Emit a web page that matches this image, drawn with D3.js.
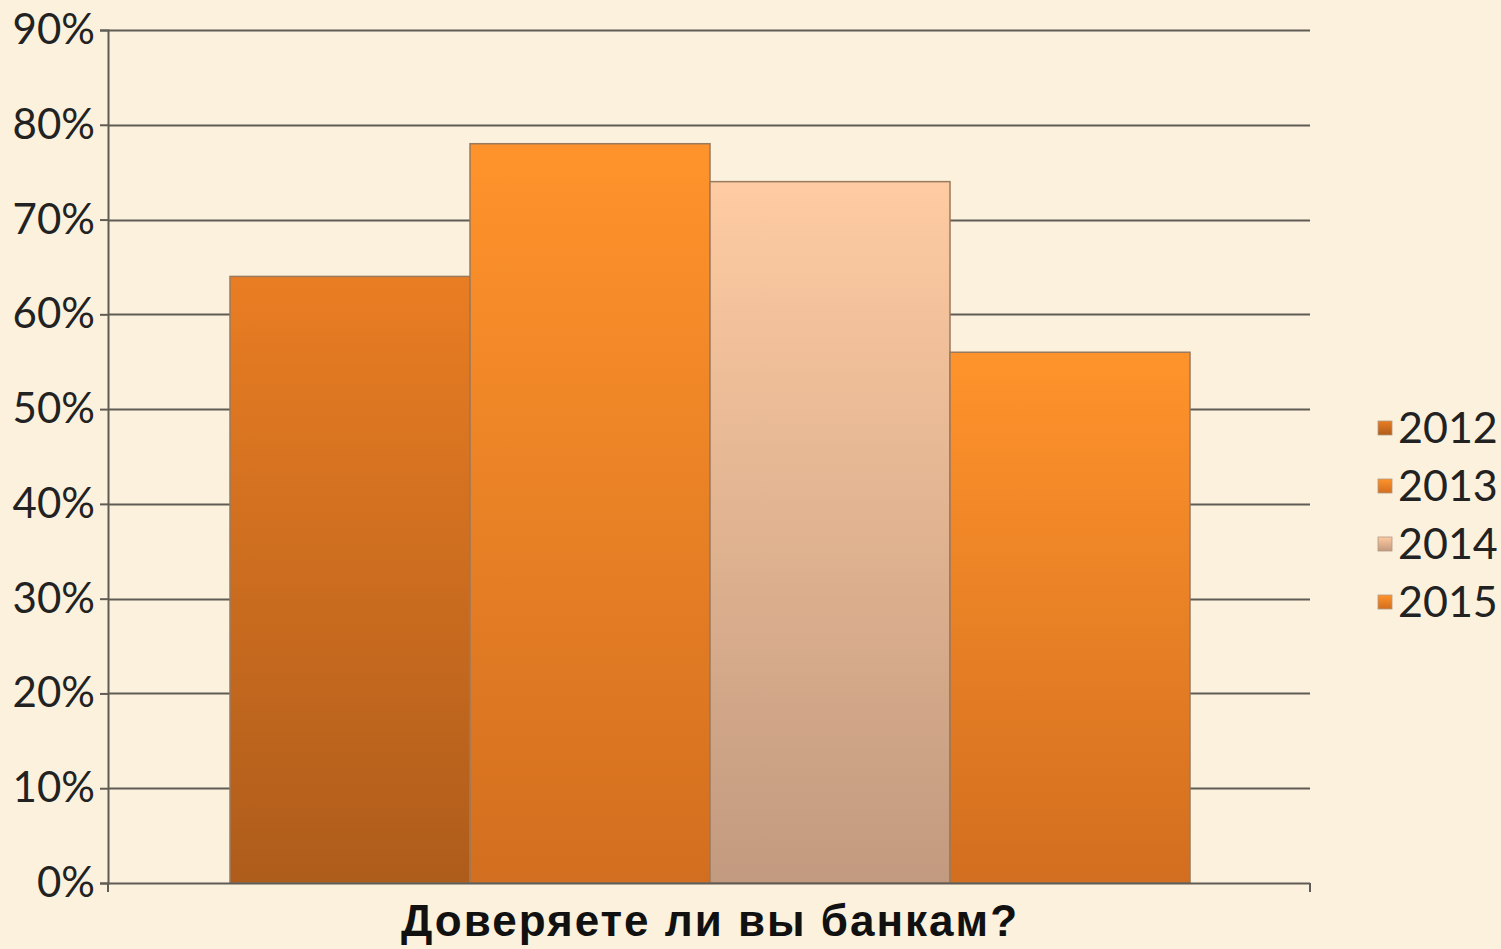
<!DOCTYPE html>
<html>
<head>
<meta charset="utf-8">
<script src="https://cdn.jsdelivr.net/npm/d3@7"></script>
<style>
  body { margin: 0; background: #fbf1dc; }
  svg { display: block; }
</style>
</head>
<body>
<div id="chart"></div>
<script>
(function() {

  var years = ["2012", "2013", "2014", "2015"],
      values = [0.64, 0.78, 0.74, 0.56],
      yTicks = [0, 0.1, 0.2, 0.3, 0.4, 0.5, 0.6, 0.7, 0.8, 0.9],
      category = "Доверяете ли вы банкам?";

  var topColors = ["#e97d23", "#ff932b", "#fecba2", "#ff932b"],
      bottomColors = ["#ae5c1b", "#d26e1f", "#c29a7f", "#d26e1f"];

  var width = 1501, height = 949,
      left = 108, right = 1310, top = 30, bottom = 883;

  var svg = d3.select("#chart").append("svg")
      .attr("width", width)
      .attr("height", height);

  svg.append("rect")
      .attr("width", width)
      .attr("height", height)
      .attr("fill", "#fbf1dc");

  var defs = svg.append("defs");
  years.forEach(function(y, i) {
    var g = defs.append("linearGradient")
        .attr("id", "grad" + i)
        .attr("x1", 0).attr("y1", 0).attr("x2", 0).attr("y2", 1);
    g.append("stop").attr("offset", "0%").attr("stop-color", topColors[i]);
    g.append("stop").attr("offset", "100%").attr("stop-color", bottomColors[i]);
  });

  var y = d3.scaleLinear()
      .domain([0, 0.9])
      .range([bottom, top]);

  var x = d3.scaleBand()
      .domain(years)
      .range([230, 1190])
      .padding(0);

  // gridlines
  svg.append("g")
    .selectAll("line")
      .data(yTicks.slice(1))
    .enter().append("line")
      .attr("x1", left)
      .attr("x2", right)
      .attr("y1", function(d) { return Math.round(y(d)) + 0.5; })
      .attr("y2", function(d) { return Math.round(y(d)) + 0.5; })
      .attr("stroke", "#5f5b55")
      .attr("stroke-width", 2);

  // y axis
  var yAxis = svg.append("g")
      .attr("transform", "translate(" + left + ",0)")
      .call(d3.axisLeft(y)
        .tickValues(yTicks)
        .tickSize(8)
        .tickPadding(5)
        .tickFormat(d3.format(".0%")));
  yAxis.select(".domain").attr("stroke", "#5f5b55").attr("stroke-width", 2);
  yAxis.selectAll(".tick line").attr("stroke", "#5f5b55").attr("stroke-width", 2);
  yAxis.selectAll(".tick text")
      .attr("fill", "#222")
      .style("font-family", "Lato, 'Open Sans', sans-serif")
      .style("font-size", "42px");

  // bars
  svg.append("g")
    .selectAll("rect")
      .data(values)
    .enter().append("rect")
      .attr("x", function(d, i) { return x(years[i]); })
      .attr("y", function(d) { return y(d); })
      .attr("width", x.bandwidth())
      .attr("height", function(d) { return bottom - y(d); })
      .attr("fill", function(d, i) { return "url(#grad" + i + ")"; })
      .attr("stroke", "#9a7a5e")
      .attr("stroke-width", 1.5);

  // x axis
  svg.append("line")
      .attr("x1", left).attr("x2", right)
      .attr("y1", bottom + 0.5).attr("y2", bottom + 0.5)
      .attr("stroke", "#5f5b55").attr("stroke-width", 2);
  [left, right].forEach(function(px) {
    svg.append("line")
        .attr("x1", px).attr("x2", px)
        .attr("y1", bottom).attr("y2", bottom + 9)
        .attr("stroke", "#5f5b55").attr("stroke-width", 2);
  });

  svg.append("text")
      .attr("x", (left + right) / 2 + 1)
      .attr("y", 936)
      .attr("text-anchor", "middle")
      .attr("fill", "#111")
      .style("font-family", "'Liberation Sans', Arial, sans-serif")
      .style("font-weight", "bold")
      .style("font-size", "44px")
      .style("letter-spacing", "2px")
      .text(category);

  // legend
  var legend = svg.append("g")
    .selectAll("g")
      .data(years)
    .enter().append("g")
      .attr("transform", function(d, i) { return "translate(1378," + (427 + i * 58) + ")"; });

  legend.append("rect")
      .attr("x", 0)
      .attr("y", -6)
      .attr("width", 14)
      .attr("height", 14)
      .attr("fill", function(d, i) { return "url(#grad" + i + ")"; })
      .attr("stroke", "#b59a80")
      .attr("stroke-width", 0.8);

  legend.append("text")
      .attr("x", 20)
      .attr("y", 1)
      .attr("dy", "0.35em")
      .attr("fill", "#222")
      .style("font-family", "Lato, 'Open Sans', sans-serif")
      .style("font-size", "43px")
      .text(function(d) { return d; });

})();
</script>
</body>
</html>
